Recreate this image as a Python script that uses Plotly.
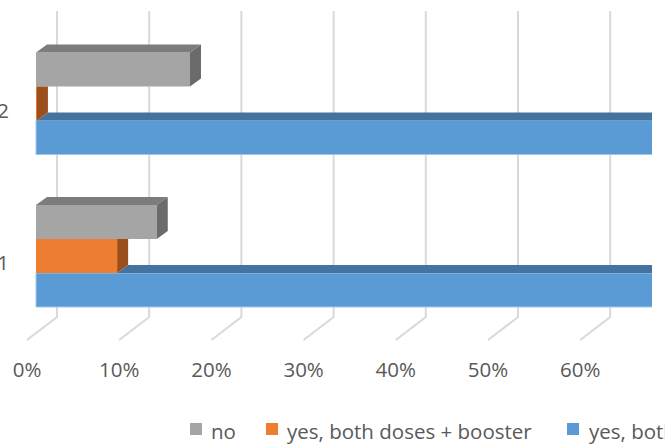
import plotly.graph_objects as go

# ---------------- data ----------------
categories = ["1", "2"]
series_names = ["no", "yes, both doses + booster", "yes, both doses"]
no_vals = [0.131, 0.167]
booster_vals = [0.088, 0.001]
both_doses_vals = [0.781, 0.832]
x_tick_vals = [0.0, 0.1, 0.2, 0.3, 0.4, 0.5, 0.6]
x_tick_text = ["0%", "10%", "20%", "30%", "40%", "50%", "60%"]

# ---------------- layout constants (pixels) ----------------
W, H = 665, 444
L, R = 20, 652          # plot area left/right
T, B = 0, 345           # plot area top/bottom
ZERO_PX = 36            # pixel of value 0 on bar front faces
PX_PER_UNIT = 922.0
CAT_PX = 152.5
CAT0_PX = 256.0         # pixel of first category centre
BARGAP = 0.331
DEPTH_DX, DEPTH_DY = 11, 8   # 3-D depth of bars in px

FONT = "Open Sans"
FS = 20.5
TXT = "#595959"
GRID = "#D9D9D9"

x_lo = -(ZERO_PX - L) / PX_PER_UNIT
x_hi = x_lo + (R - L) / PX_PER_UNIT
y_lo = -(B - CAT0_PX) / CAT_PX
y_hi = y_lo + (B - T) / CAT_PX
dx = DEPTH_DX / PX_PER_UNIT
dy = DEPTH_DY / CAT_PX

# series drawn bottom -> top inside each group
series = [
    dict(name=series_names[2], vals=both_doses_vals, front="#5B9BD5", top="#44739F", side="#3E6A93",
         edge=dict(color="#A3C6E8", width=1)),
    dict(name=series_names[1], vals=booster_vals, front="#ED7D31", top="#B85F24", side="#9C4F1D",
         edge=dict(width=0)),
    dict(name=series_names[0], vals=no_vals, front="#A5A5A5", top="#7C7C7C", side="#6B6B6B",
         edge=dict(width=0)),
]
n = len(series)
bw = (1 - BARGAP) / n
ypos = list(range(len(categories)))

fig = go.Figure()
shapes = []

def path(pts):
    return "M " + " L ".join(f"{x},{y}" for x, y in pts) + " Z"

for k, s in enumerate(series):
    off = -(1 - BARGAP) / 2 + k * bw
    fig.add_trace(go.Bar(
        x=s["vals"], y=ypos, orientation="h", name=s["name"],
        width=bw, offset=off, marker=dict(color=s["front"], line=s["edge"]),
        showlegend=False, hoverinfo="x+name",
    ))
    for c in ypos:
        v = s["vals"][c]
        a = series[k + 1]["vals"][c] if k + 1 < n else 0.0
        y0 = c + off
        y1 = y0 + bw
        if v > a:
            top = [(a, y1), (v, y1), (v + dx, y1 + dy), (a + dx, y1 + dy)]
            side = [(v, y0), (v + dx, y0 + dy), (v + dx, y1 + dy), (v, y1)]
            shapes.append(dict(type="path", xref="x", yref="y", path=path(top),
                               fillcolor=s["top"], line=dict(width=0), layer="above"))
        else:
            ytop = y1 + max(0.0, v + dx - a) * dy / dx
            side = [(v, y0), (v + dx, y0 + dy), (v + dx, ytop)]
            if a < v + dx:
                side.append((a, y1))
            side.append((v, y1))
        shapes.append(dict(type="path", xref="x", yref="y", path=path(side),
                           fillcolor=s["side"], line=dict(width=0), layer="above"))

# back-wall gridlines + floor diagonals, anchored at tick values
GRID_BACK = 21      # px right of bar-front scale
GRID_FRONT = -9     # px of floor front edge
for tv in x_tick_vals:
    shapes.append(dict(
        type="path", xref="x", yref="paper", xsizemode="pixel", ysizemode="pixel",
        xanchor=tv, yanchor=0,
        path=f"M {GRID_BACK},{B - 11} L {GRID_BACK},{B - 317} L {GRID_FRONT},{B - 340}",
        line=dict(color=GRID, width=2), fillcolor="rgba(0,0,0,0)", layer="below",
    ))

# manual legend (clipped at the right edge like the original)
def xp(px):
    return (px - L) / (R - L)

def yp(py):
    return (B - py) / (B - T)

legend_order = [series[2], series[1], series[0]]
legend_sq_x = [190, 266, 567]
legend_txt_x = [209, 285, 587]
SQ = 12
LEG_Y = 429
annotations = []
for s, sx, tx in zip(legend_order, legend_sq_x, legend_txt_x):
    shapes.append(dict(type="rect", xref="paper", yref="paper",
                       x0=xp(sx), x1=xp(sx + SQ), y0=yp(LEG_Y + SQ / 2), y1=yp(LEG_Y - SQ / 2),
                       fillcolor=s["front"], line=dict(width=0)))
    annotations.append(dict(xref="paper", yref="paper", x=xp(tx), y=yp(LEG_Y + 1.5),
                            xanchor="left", yanchor="middle", text=s["name"], showarrow=False,
                            font=dict(family=FONT, size=FS, color=TXT)))

fig.update_layout(
    width=W, height=H,
    margin=dict(l=L, r=W - R, t=T, b=H - B, pad=0, autoexpand=False),
    paper_bgcolor="white", plot_bgcolor="white",
    barmode="overlay",
    showlegend=False,
    shapes=shapes,
    annotations=annotations,
    font=dict(family=FONT, size=FS, color=TXT),
    xaxis=dict(range=[x_lo, x_hi], tickvals=x_tick_vals, ticktext=x_tick_text,
               showgrid=False, zeroline=False, showline=False, ticks="",
               ticklabelshift=-9, ticklabelstandoff=10,
               tickfont=dict(family=FONT, size=FS, color=TXT)),
    yaxis=dict(range=[y_lo, y_hi], tickvals=ypos, ticktext=categories,
               showgrid=False, zeroline=False, showline=False, ticks="",
               ticklabelshift=7, ticklabelstandoff=10,
               tickfont=dict(family=FONT, size=FS, color=TXT)),
)

fig.write_html(
    "out.html",
    config={"displayModeBar": False},
    post_script="document.body.style.margin='0';document.body.style.overflow='hidden';",
)
